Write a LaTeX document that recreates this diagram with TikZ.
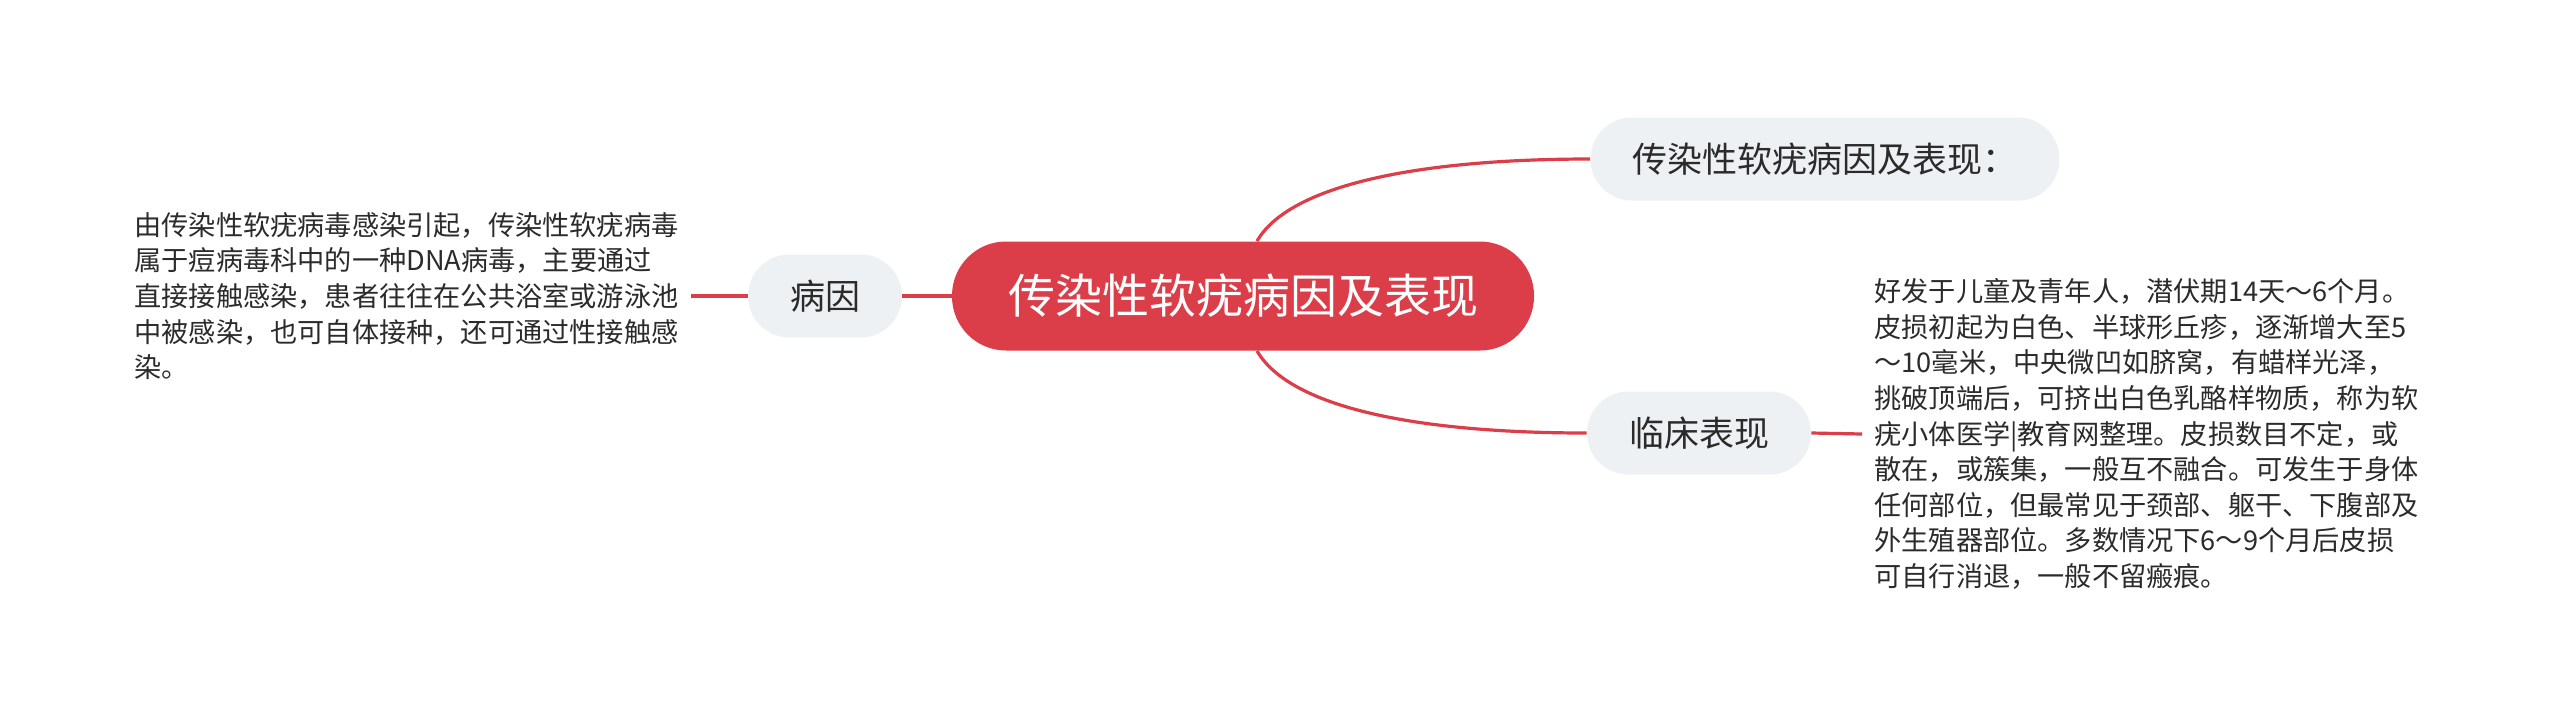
\documentclass[tikz,border=0pt]{standalone}
\usepackage{fontspec}
\setmainfont{Noto Sans CJK SC}
\usepackage{tikz}

\definecolor{mainred}{HTML}{DB3E48}
\definecolor{topicgray}{HTML}{EEF1F4}
\definecolor{inkgray}{HTML}{2B2B2B}

\begin{document}
\begin{tikzpicture}[x=0.5pt, y=-0.5pt,
		rootbox/.style={fill=mainred, text=white, rounded corners=27pt, minimum height=54.5pt, inner xsep=28pt, font=\fontsize{23.5}{28}\selectfont},
		topicbox/.style={fill=topicgray, text=inkgray, rounded corners=20.7pt, minimum height=41.5pt, inner xsep=21pt, font=\fontsize{17.5}{21}\selectfont},
		notetext/.style={text=inkgray, align=left, inner xsep=6pt, inner ysep=0pt, font=\fontsize{13.6}{17.8}\selectfont},
		link/.style={draw=mainred, line width=1.6pt}]
		
		%
		\fill[white] (0,0) rectangle (2560,725);
		\useasboundingbox (0,0) rectangle (2560,725);
		
		%
		\node[rootbox] (root) at (1243,296) {传染性软疣病因及表现};
		\node[topicbox] (cause) at (825,296) {病因};
		\node[topicbox] (title) at (1825,159) {传染性软疣病因及表现：};
		\node[topicbox] (clinic) at (1699,433) {临床表现};
		
		\node[notetext, anchor=west] (causetext) at (122,296) {由传染性软疣病毒感染引起，传染性软疣病毒\\属于痘病毒科中的一种DNA病毒，主要通过\\直接接触感染，患者往往在公共浴室或游泳池\\中被感染，也可自体接种，还可通过性接触感\\染。};
		\node[notetext, anchor=west] (clinictext) at (1862,434) {好发于儿童及青年人，潜伏期14天～6个月。\\皮损初起为白色、半球形丘疹，逐渐增大至5\\～10毫米，中央微凹如脐窝，有蜡样光泽，\\挑破顶端后，可挤出白色乳酪样物质，称为软\\疣小体医学|教育网整理。皮损数目不定，或\\散在，或簇集，一般互不融合。可发生于身体\\任何部位，但最常见于颈部、躯干、下腹部及\\外生殖器部位。多数情况下6～9个月后皮损\\可自行消退，一般不留瘢痕。};
		
		%
		\draw[link] (cause.east) -- (root.west);
		\draw[link] (causetext.east) -- (cause.west);
		\draw[link] (clinic.east) -- (clinictext.west);
		\draw[link] ([xshift=7pt]root.north) .. controls +(33,-57) and +(-169,0) .. (title.west);
		\draw[link] ([xshift=7pt]root.south) .. controls +(33,57) and +(-169,0) .. (clinic.west);
		
	\end{tikzpicture}
\end{document}
